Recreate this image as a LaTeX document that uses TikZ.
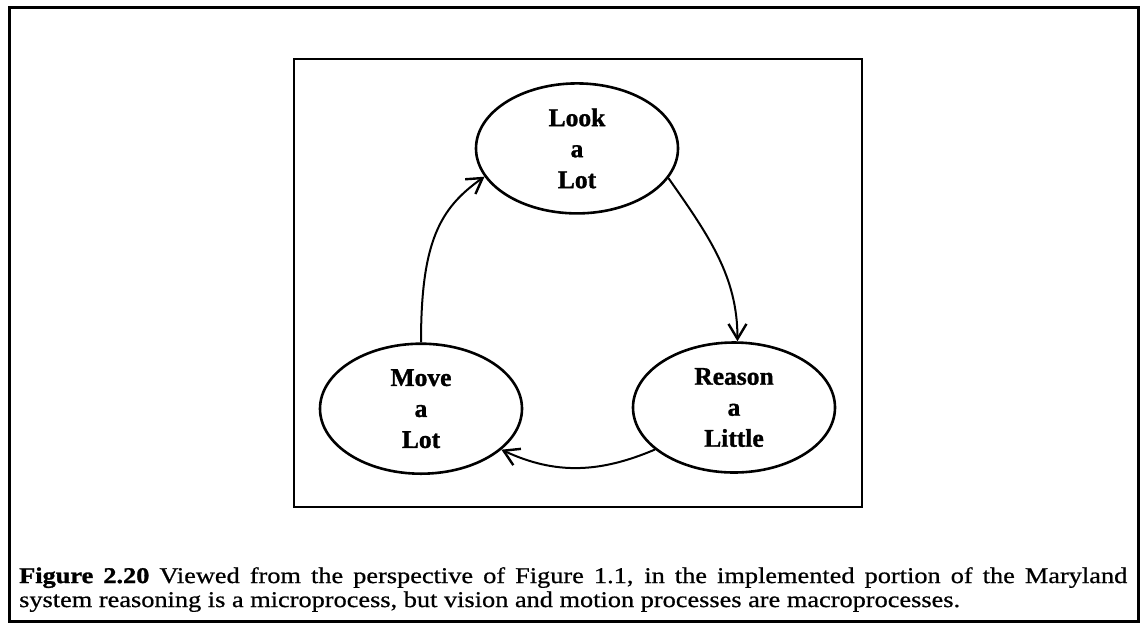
\documentclass[tikz,border=0pt]{standalone}
\usepackage{fontspec}
\setmainfont{Liberation Serif}
\newfontfamily\capfont{Liberation Serif}[FakeStretch=1.17,UprightFeatures={FakeBold=0.7},BoldFeatures={FakeBold=1.2}]
\newfontfamily\nodefont{Liberation Serif}[BoldFeatures={FakeBold=1.2}]
\usetikzlibrary{arrows.meta,shapes.geometric}
\begin{document}
\begin{tikzpicture}[x=1pt,y=-1pt,
  frame/.style={draw=black,line width=3pt},
  state/.style={draw=black,ellipse,line width=2.6pt,minimum width=202pt,minimum height=130pt,
    inner sep=0pt,align=center,font=\nodefont\bfseries\fontsize{25.5}{31}\selectfont},
  flow/.style={draw=black,line width=2pt,-{Straight Barb[length=15pt,width=18pt,line width=2.4pt]}}]
\useasboundingbox (0,0) rectangle (1142,625);
\draw[frame] (9,7) rectangle (1138,621);
\draw[frame,line width=2.8pt] (294,59) rectangle (862,507);
\node[state] (look) at (577,148.4) {Look\\a\\Lot};
\node[state] (move) at (421,408.7) {Move\\a\\Lot};
\node[state] (reason) at (734,407.5) {Reason\\a\\Little};
\draw[flow] (move.north) to[out=90,in=215,out distance=100pt,in distance=55pt] (look.197);
\draw[flow] (look.342.6) to[out=-55,in=90,out distance=70pt,in distance=65pt] (reason.87);
\draw[flow] (reason.208) to[out=203,in=-25] (move.333);
\node[anchor=north west,inner sep=0pt,text width=1108pt,align=justify] (cap) at (19,567)
  {\capfont\fontsize{22.5}{24}\selectfont\textbf{Figure 2.20} Viewed from the perspective of Figure 1.1, in the implemented portion of the Maryland\linebreak
   system reasoning is a microprocess, but vision and motion processes are macroprocesses.\par};
\end{tikzpicture}
\end{document}
